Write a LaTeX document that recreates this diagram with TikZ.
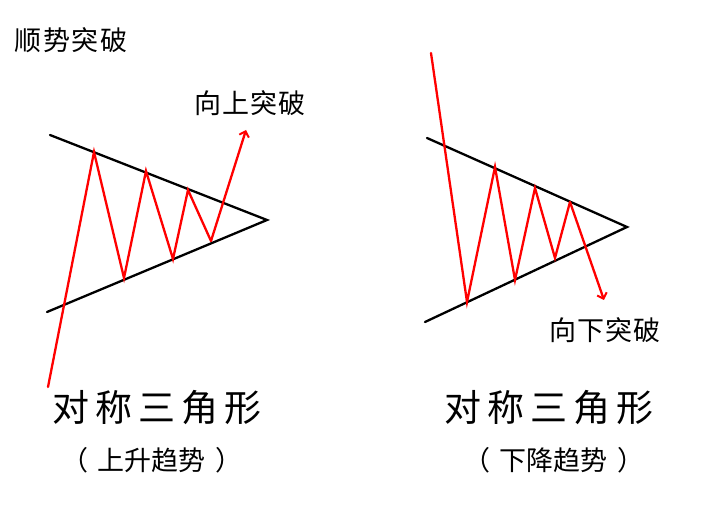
\documentclass[tikz,border=0pt]{standalone}
\usepackage{fontspec}
\newfontfamily\cjk{Noto Sans CJK SC}
\usetikzlibrary{arrows.meta}
\begin{document}
\begin{tikzpicture}[x=1pt,y=-1pt,
  trend/.style={black,line width=2.3pt,line cap=round},
  price/.style={red,line width=2.3pt,line join=miter,line cap=round},
  brk/.style={-{Straight Barb[length=5pt,width=10pt,line width=2pt]}},
  lbl/.style={font=\cjk\fontsize{27}{30}\selectfont,inner sep=0pt},
  big/.style={font=\cjk\fontsize{37}{42}\selectfont,inner sep=0pt},
  sub/.style={font=\cjk\fontsize{27}{30}\selectfont,inner sep=0pt}]
\useasboundingbox (0,0) rectangle (704,510);
% ---- left: upward breakout
\coordinate (LU) at (50,135);
\coordinate (LA) at (267,220);
\coordinate (LL) at (47,312);
\draw[trend] (LU) -- (LA) -- (LL);
\coordinate (l0) at (48,387);
\coordinate (l1) at (94,152);
\coordinate (l2) at (124,278);
\coordinate (l3) at (146,171);
\coordinate (l4) at (173,259);
\coordinate (l5) at (188,190);
\coordinate (l6) at (211,241);
\coordinate (l7) at (246,130);
\draw[price] (l0) -- (l1) -- (l2) -- (l3) -- (l4) -- (l5) -- (l6);
\draw[price,brk] (l6) -- (l7);
% ---- right: downward breakout
\coordinate (RU) at (427,138);
\coordinate (RA) at (627,227);
\coordinate (RL) at (425,322);
\draw[trend] (RU) -- (RA) -- (RL);
\coordinate (r0) at (431,53);
\coordinate (r1) at (467,302);
\coordinate (r2) at (495,167);
\coordinate (r3) at (515,280);
\coordinate (r4) at (535,188);
\coordinate (r5) at (555,258);
\coordinate (r6) at (570,202);
\coordinate (r7) at (604,300);
\draw[price] (r0) -- (r1) -- (r2) -- (r3) -- (r4) -- (r5) -- (r6);
\draw[price,brk] (r6) -- (r7);
% ---- texts
\node[lbl] (title) at (71,40) {顺\hspace{1.5pt}势\hspace{1.5pt}突\hspace{1.5pt}破};
\node[lbl] (up) at (250,103) {向\hspace{1pt}上\hspace{1pt}突\hspace{1pt}破};
\node[lbl] (down) at (605,330) {向\hspace{1pt}下\hspace{1pt}突\hspace{1pt}破};
\node[big] (t1) at (157,408) {对\hspace{6pt}称\hspace{6pt}三\hspace{6pt}角\hspace{6pt}形};
\node[sub] (s1) at (152,460) {（\hspace{10pt}上升趋势\hspace{10pt}）};
\node[big] (t2) at (549,408) {对\hspace{6pt}称\hspace{6pt}三\hspace{6pt}角\hspace{6pt}形};
\node[sub] (s2) at (554,460) {（\hspace{10pt}下降趋势\hspace{10pt}）};
\end{tikzpicture}
\end{document}
